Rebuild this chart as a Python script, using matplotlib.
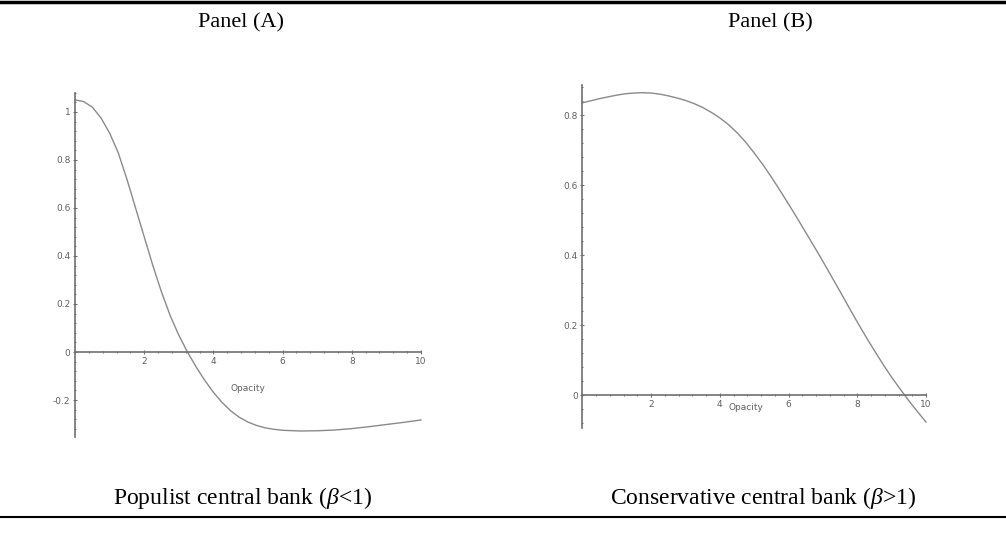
import matplotlib
matplotlib.use("Agg")
import matplotlib.pyplot as plt
from matplotlib.ticker import MultipleLocator, FixedLocator

plt.rcParams['mathtext.fontset'] = 'custom'
plt.rcParams['mathtext.rm'] = 'Liberation Serif'
plt.rcParams['mathtext.it'] = 'Liberation Serif:italic'

# ---- data ----
xa = [0, 0.25, 0.5, 0.75, 1.0, 1.25, 1.5, 1.75, 2.0, 2.25, 2.5, 2.75, 3.0, 3.25,
      3.5, 3.75, 4.0, 4.25, 4.5, 4.75, 5.0, 5.25, 5.5, 5.75, 6.0, 6.5, 7.0, 7.5,
      8.0, 8.5, 9.0, 9.5, 10]
ya = [1.05, 1.043, 1.02, 0.975, 0.912, 0.83, 0.72, 0.60, 0.48, 0.36, 0.25, 0.152, 0.07, 0.0,
      -0.062, -0.118, -0.168, -0.21, -0.245, -0.272, -0.292, -0.306, -0.316, -0.322, -0.326,
      -0.329, -0.328, -0.325, -0.319, -0.311, -0.302, -0.293, -0.283]

xb = [0, 0.25, 0.5, 0.75, 1.0, 1.25, 1.5, 1.75, 2.0, 2.25, 2.5, 2.75, 3.0, 3.25, 3.5,
      3.75, 4.0, 4.25, 4.5, 4.75, 5.0, 5.25, 5.5, 5.75, 6.0, 6.25, 6.5, 6.75, 7.0,
      7.25, 7.5, 7.75, 8.0, 8.25, 8.5, 8.75, 9.0, 9.25, 9.5, 9.75, 10]
yb = [0.835, 0.841, 0.847, 0.852, 0.857, 0.861, 0.863, 0.864, 0.863, 0.860, 0.855, 0.849,
      0.842, 0.833, 0.822, 0.808, 0.792, 0.773, 0.750, 0.723, 0.692, 0.659, 0.623, 0.585,
      0.546, 0.506, 0.465, 0.424, 0.382, 0.339, 0.296, 0.252, 0.209, 0.167, 0.127, 0.088,
      0.051, 0.017, -0.016, -0.047, -0.077]

xticks = [2, 4, 6, 8, 10]
yticks_a = [-0.2, 0, 0.2, 0.4, 0.6, 0.8, 1]
yticks_b = [0, 0.2, 0.4, 0.6, 0.8]
xlabel = "Opacity"
titles = ["Panel (A)", "Panel (B)"]
captions = [r"Populist central bank ($\mathit{\beta}$<1)",
            r"Conservative central bank ($\mathit{\beta}$>1)"]

W, H = 1006, 533
fig = plt.figure(figsize=(W / 100, H / 100), dpi=100)

curve_col = '#8a8a8a'
axis_col = '#707070'
label_col = '#606060'


def make_ax(px_left, px_right, px_top, px_bottom, ylim):
    ax = fig.add_axes([px_left / W, 1 - px_bottom / H,
                       (px_right - px_left) / W, (px_bottom - px_top) / H])
    ax.set_xlim(0, 10)
    ax.set_ylim(*ylim)
    for s in ['top', 'right']:
        ax.spines[s].set_visible(False)
    ax.spines['bottom'].set_position(('data', 0))
    ax.spines['left'].set_position(('data', 0))
    for s in ['bottom', 'left']:
        ax.spines[s].set_color(axis_col)
        ax.spines[s].set_linewidth(1.2)
    ax.patch.set_visible(False)
    return ax


def style_ticks(ax, yt):
    ax.xaxis.set_major_locator(FixedLocator(xticks))
    ax.xaxis.set_minor_locator(MultipleLocator(0.4))
    ax.yaxis.set_major_locator(FixedLocator(yt))
    ax.yaxis.set_minor_locator(MultipleLocator(0.04))
    ax.set_xticklabels([str(t) for t in xticks])
    ax.set_yticklabels(['0' if t == 0 else ('1' if t == 1 else f'{t:g}') for t in yt])
    ax.tick_params(which='major', direction='inout', length=3.5, width=0.8,
                   color=axis_col, labelsize=6.5, labelcolor=label_col, pad=1.5)
    ax.tick_params(which='minor', direction='inout', length=2, width=0.8, color=axis_col)


# Panel A
axA = make_ax(75, 421, 92.7, 437, (-0.354, 1.08))
style_ticks(axA, yticks_a)
axA.plot(xa, ya, color=curve_col, lw=1.0, clip_on=False)
axA.text(5.0, -0.151, xlabel, fontsize=6.5, color=label_col, ha='center', va='center')

# Panel B
axB = make_ax(582.3, 926, 85, 428, (-0.094, 0.886))
style_ticks(axB, yticks_b)
axB.plot(xb, yb, color=curve_col, lw=1.0, clip_on=False)
axB.text(4.75, -0.034, xlabel, fontsize=6.5, color=label_col, ha='center', va='center')

# Titles / captions
serif = 'Liberation Serif'
fig.text(241 / W, 1 - 23 / H, titles[0], family=serif, fontsize=16, ha='center', va='center')
fig.text(770 / W, 1 - 23 / H, titles[1], family=serif, fontsize=16, ha='center', va='center')
fig.text(243 / W, 1 - 498 / H, captions[0], family=serif, fontsize=17, ha='center', va='center')
fig.text(763 / W, 1 - 498 / H, captions[1], family=serif, fontsize=17, ha='center', va='center')

# Horizontal rules
fig.add_artist(plt.Line2D([0, 1], [1 - 2 / H, 1 - 2 / H], color='black', lw=2.5,
                          transform=fig.transFigure))
fig.add_artist(plt.Line2D([0, 1], [1 - 517 / H, 1 - 517 / H], color='black', lw=1.5,
                          transform=fig.transFigure))

fig.savefig('out.png', dpi=100)
